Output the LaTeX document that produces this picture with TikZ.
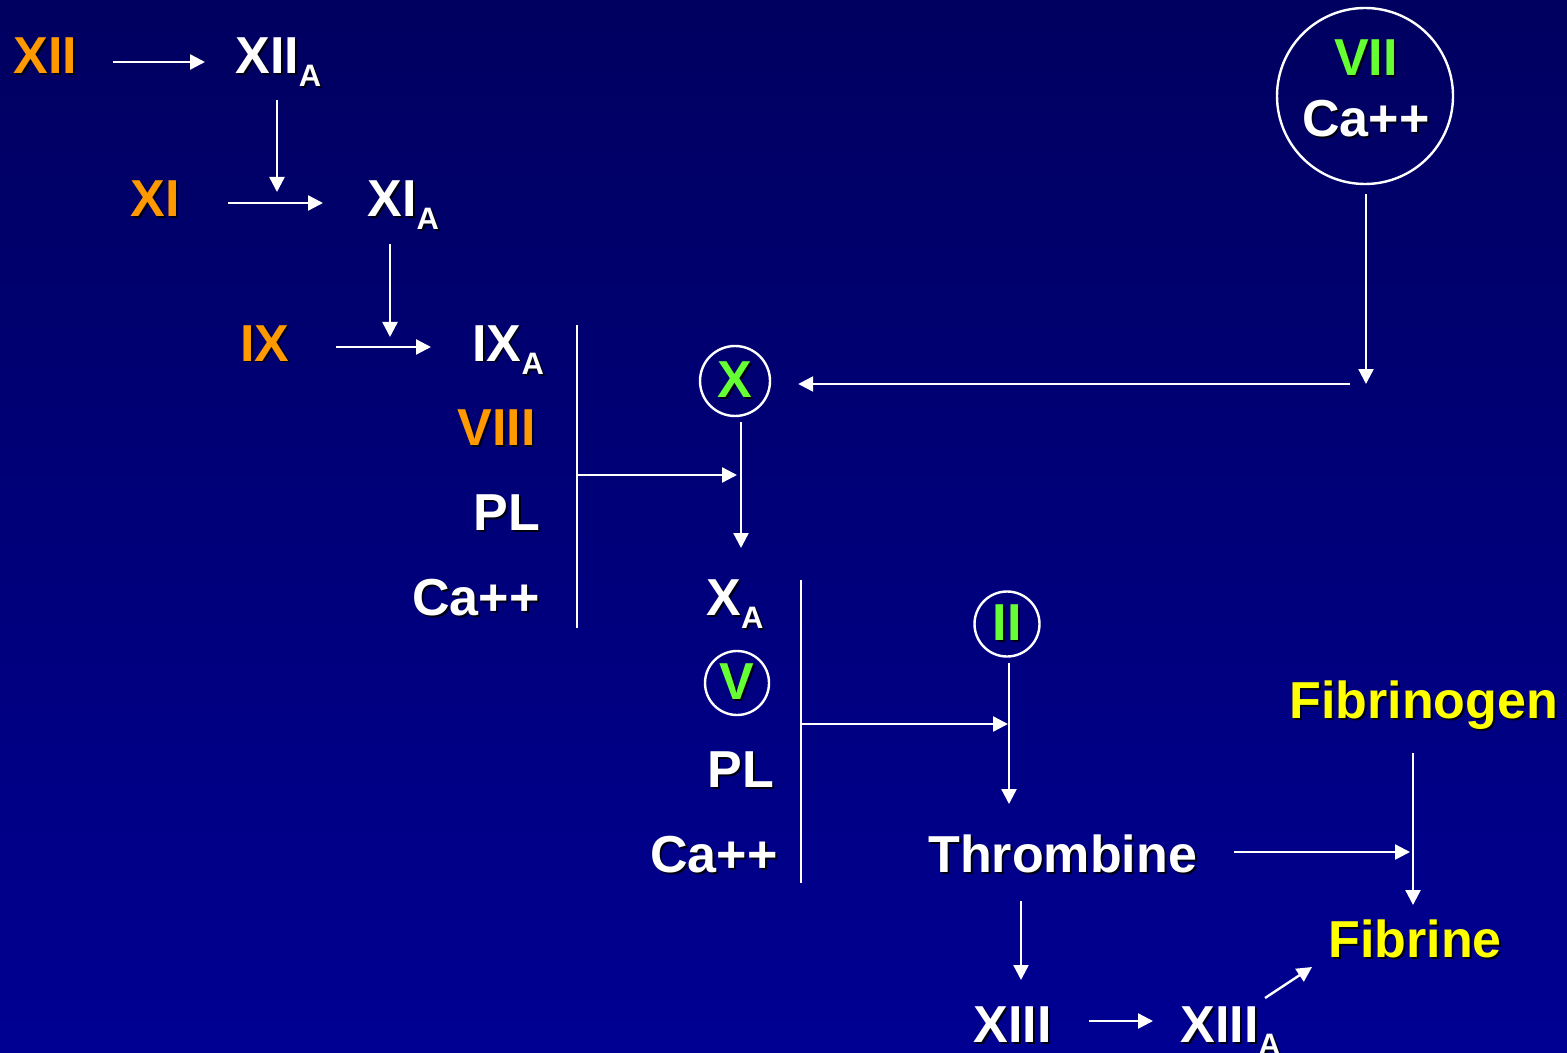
\documentclass[tikz,border=0pt]{standalone}
\usepackage{fontspec}
\setmainfont{Liberation Sans}
\usetikzlibrary{arrows.meta}
\definecolor{bgtop}{RGB}{0,0,96}
\definecolor{bgbot}{RGB}{0,0,146}
\definecolor{facorange}{RGB}{255,153,0}
\definecolor{facgreen}{RGB}{102,255,51}
\definecolor{facyellow}{RGB}{255,255,0}
\definecolor{facshadow}{RGB}{0,0,20}
\newcommand{\shd}[2]{\rlap{\kern1pt\raisebox{-1pt}{\color{facshadow}#2}}\textcolor{#1}{#2}}
\newcommand{\subA}{\raisebox{-6.5pt}{\fontsize{15.5pt}{16pt}\selectfont A}}
\tikzset{
  fac/.style={inner sep=0pt, anchor=base west, font=\fontsize{26pt}{30pt}\selectfont\bfseries},
  ring/.style={draw=white, line width=1.2pt, circle, inner sep=0pt, font=\fontsize{26pt}{30pt}\selectfont\bfseries},
  coagarrow/.style={-{Triangle[length=7.5pt,width=7.5pt]}, white, line width=1.2pt},
  coagbar/.style={white, line width=1.3pt}
}

\begin{document}
\begin{tikzpicture}[x=0.5pt, y=-0.5pt]
\useasboundingbox (0,0) rectangle (1567,1053);
\shade[top color=bgtop, bottom color=bgbot] (0,0) rectangle (1567,1053);

% intrinsic pathway
\node[fac] (xii) at (13,74) {\shd{facorange}{XII}};
\node[fac] (xiia) at (235,74) {\shd{white}{XII\subA}};
\node[fac] (xi) at (130,217) {\shd{facorange}{XI}};
\node[fac] (xia) at (367,217) {\shd{white}{XI\subA}};
\node[fac] (ix) at (240,361) {\shd{facorange}{IX}};
\node[fac] (ixa) at (472,361) {\shd{white}{IX\subA}};
\node[fac] (viii) at (457,445) {\shd{facorange}{VIII}};
\node[fac] (pla) at (473,530) {\shd{white}{PL}};
\node[fac] (caa) at (412,615) {\shd{white}{Ca++}};

\draw[coagarrow] ([shift={(100,-12)}]xii.base west) -- ([shift={(-30,-12)}]xiia.base west);
\draw[coagarrow] ([shift={(42,26)}]xiia.base west) -- ([shift={(-90,-25)}]xia.base west);
\draw[coagarrow] ([shift={(98,-14)}]xi.base west) -- ([shift={(-44,-14)}]xia.base west);
\draw[coagarrow] ([shift={(23,27)}]xia.base west) -- ([shift={(-82,-24)}]ixa.base west);
\draw[coagarrow] ([shift={(96,-14)}]ix.base west) -- ([shift={(-41,-14)}]ixa.base west);
\draw[coagbar] ([shift={(105,-36)}]ixa.base west) -- ([shift={(165,13)}]caa.base west);

% extrinsic pathway
\node[ring, minimum size=88pt] (vii) at (1365,96) {};
\node[fac, anchor=base] (viit) at ([shift={(1,-20)}]vii.center) {\shd{facgreen}{VII}};
\node[fac, anchor=base] (viica) at ([shift={(1,41)}]vii.center) {\shd{white}{Ca++}};
\node[ring, minimum size=35pt] (xc) at (735,381) {\shd{facgreen}{X}};

\draw[coagarrow] ([shift={(1,9)}]vii.south) -- ([shift={(1,3)}]vii.south |- xc.center);
\draw[coagarrow] ([shift={(-15,3)}]vii.south |- xc.center) -- ([shift={(27,3)}]xc.east);
\draw[coagarrow] ([shift={(104,-55)}]pla.base west) -- ([shift={(2,94)}]xc.center);

% common pathway
\node[fac] (xa) at (706,615) {\shd{white}{X\subA}};
\node[ring, minimum size=32pt] (vc) at (737,683) {\shd{facgreen}{V}};
\node[fac] (plb) at (707,787) {\shd{white}{PL}};
\node[fac] (cab) at (650,872) {\shd{white}{Ca++}};
\node[ring, minimum size=32.5pt] (iic) at (1007,624) {\shd{facgreen}{II}};
\node[fac] (thr) at (928,872) {\shd{white}{Thrombine}};
\node[fac] (fbg) at (1289,718) {\shd{facyellow}{Fibrinogen}};
\node[fac] (fib) at (1328,957) {\shd{facyellow}{Fibrine}};
\node[fac] (xiii) at (973,1042) {\shd{white}{XIII}};
\node[fac] (xiiia) at (1180,1042) {\shd{white}{XIII\subA}};

\draw[coagarrow] ([shift={(6,5)}]xc.south) -- ([shift={(35,-67)}]xa.base west);
\draw[coagbar] ([shift={(95,-35)}]xa.base west) -- ([shift={(151,11)}]cab.base west);
\draw[coagarrow] ([shift={(94,-63)}]plb.base west) -- ([shift={(1,100)}]iic.center);
\draw[coagarrow] ([shift={(2,5)}]iic.south) -- ([shift={(81,-68)}]thr.base west);
\draw[coagarrow] ([shift={(37,-20)}]thr.base east) -- ([shift={(82,-105)}]fib.base west);
\draw[coagarrow] ([shift={(124,35)}]fbg.base west) -- ([shift={(85,-52)}]fib.base west);
\draw[coagarrow] ([shift={(93,29)}]thr.base west) -- ([shift={(48,-62)}]xiii.base west);
\draw[coagarrow] ([shift={(116,-21)}]xiii.base west) -- ([shift={(-27,-21)}]xiiia.base west);
\draw[coagarrow] ([shift={(85,-44)}]xiiia.base west) -- ([shift={(-16,10)}]fib.base west);
\end{tikzpicture}
\end{document}
